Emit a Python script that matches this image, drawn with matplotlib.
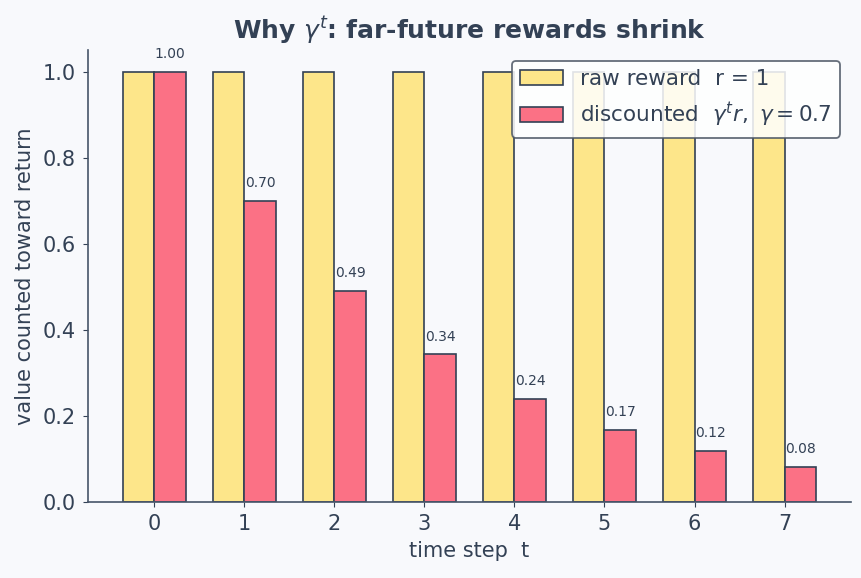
import numpy as np
import matplotlib
matplotlib.use('Agg')
import matplotlib.pyplot as plt

steps = [0, 1, 2, 3, 4, 5, 6, 7]
raw_reward = [1, 1, 1, 1, 1, 1, 1, 1]
discounted = [1.00, 0.70, 0.49, 0.343, 0.240, 0.168, 0.118, 0.082]

txt = '#334155'
bg = '#f8f9fc'

fig, ax = plt.subplots(figsize=(8.62, 5.78), dpi=100)
fig.patch.set_facecolor(bg)
ax.set_facecolor(bg)

x = np.array(steps)
w = 0.35
ax.bar(x - w/2, raw_reward, w, color='#fde68a', edgecolor=txt, linewidth=1.2,
       label='raw reward  r = 1')
ax.bar(x + w/2, discounted, w, color='#fb7185', edgecolor=txt, linewidth=1.2,
       label=r'discounted  $\gamma^t r,\ \gamma = 0.7$')

for xi, v in zip(x, discounted):
    ax.text(xi + w/2, v + 0.025, f'{v:.2f}', ha='center', va='bottom',
            fontsize=10, color=txt)

ax.set_xticks(steps)
ax.set_title(r'Why $\gamma^t$: far-future rewards shrink', fontsize=18,
             fontweight='bold', color=txt, pad=8)
ax.set_xlabel('time step  t', fontsize=15, color=txt, labelpad=5)
ax.set_ylabel('value counted toward return', fontsize=15, color=txt, labelpad=6)
ax.tick_params(colors=txt, labelsize=15, pad=5)
for s in ['top', 'right']:
    ax.spines[s].set_visible(False)
for s in ['left', 'bottom']:
    ax.spines[s].set_color('#475569')
    ax.spines[s].set_linewidth(1.2)

leg = ax.legend(loc='upper right', fontsize=15.5, framealpha=0.85,
                edgecolor='#4b5563', facecolor='white')
leg.get_frame().set_linewidth(1.3)
for t in leg.get_texts():
    t.set_color(txt)

fig.subplots_adjust(left=0.102, right=0.987, bottom=0.1315, top=0.9135)
fig.savefig('out.png', dpi=100, facecolor=bg)
